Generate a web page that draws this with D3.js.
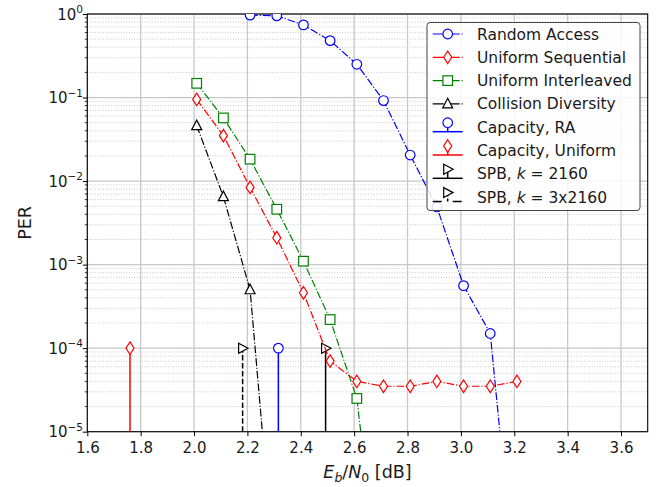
<!DOCTYPE html>
<html>
<head>
<meta charset="utf-8">
<script src="https://cdn.jsdelivr.net/npm/d3@7"></script>
<style>
  body { margin: 0; background: #fff; }
  text { font-family: "DejaVu Sans", sans-serif; fill: #1a1a1a; }
</style>
</head>
<body>
<div id="my_dataviz"></div>
<script>
// ---- data ----
var xTicks = [1.6, 1.8, 2.0, 2.2, 2.4, 2.6, 2.8, 3.0, 3.2, 3.4, 3.6];
var yDecades = [-5, -4, -3, -2, -1, 0];

var ebn0RA  = [2.21, 2.31, 2.41, 2.51, 2.61, 2.71, 2.81, 2.91, 3.01, 3.11, 3.21];
var perRA   = [0.97, 0.95, 0.74, 0.48, 0.25, 0.092, 0.0205, 0.0049, 5.6e-4, 1.5e-4, 8e-8];

var ebn0Seq = [2.01, 2.11, 2.21, 2.31, 2.41, 2.51, 2.61, 2.71, 2.81, 2.91, 3.01, 3.11, 3.21];
var perSeq  = [0.095, 0.035, 0.0084, 0.0021, 4.6e-4, 7e-5, 4e-5, 3.5e-5, 3.5e-5, 4e-5, 3.5e-5, 3.5e-5, 4e-5];

var ebn0Int = [2.01, 2.11, 2.21, 2.31, 2.41, 2.51, 2.61, 2.71];
var perInt  = [0.148, 0.057, 0.0183, 0.0046, 0.0011, 2.2e-4, 2.5e-5, 5e-8];

var ebn0CD  = [2.01, 2.11, 2.21, 2.31];
var perCD   = [0.046, 0.0065, 5e-4, 1e-7];

var stemX   = [2.316, 1.76, 2.493, 2.182];   // Capacity RA, Capacity Uniform, SPB k, SPB 3k
var stemPER = 1e-4;

var seriesNames = ["Random Access", "Uniform Sequential", "Uniform Interleaved", "Collision Diversity"];
var stemNames = ["Capacity, RA", "Capacity, Uniform", "SPB, k = 2160", "SPB, k = 3x2160"];

function plot(){

    document.getElementById("my_dataviz").innerHTML = '';

    var W = 662, H = 487;
    var left = 87.3, right = 647.7, top = 14, bottom = 431.7;

    var svg = d3.select("#my_dataviz")
        .append("svg")
            .attr("width", W)
            .attr("height", H);

    var xScale = d3.scaleLinear().domain([1.6, 3.7]).range([left, right]);
    var yScale = d3.scaleLog().domain([1e-5, 1]).range([bottom, top]);

    svg.append("clipPath").attr("id", "clip")
        .append("rect")
            .attr("x", left).attr("y", top)
            .attr("width", right - left).attr("height", bottom - top);

    // minor grid (dotted) and major grid
    var minors = [];
    yDecades.slice(0, -1).forEach(function(e) {
        for (var m = 2; m <= 9; m++) minors.push(m * Math.pow(10, e));
    });
    var grid = svg.append("g");
    grid.selectAll(".minor").data(minors).enter().append("line")
        .attr("x1", left).attr("x2", right)
        .attr("y1", function(d) { return yScale(d); })
        .attr("y2", function(d) { return yScale(d); })
        .attr("stroke", "#c4c4c4").attr("stroke-width", 0.9)
        .attr("stroke-dasharray", "1,1.6");
    grid.selectAll(".majy").data(yDecades).enter().append("line")
        .attr("x1", left).attr("x2", right)
        .attr("y1", function(d) { return yScale(Math.pow(10, d)); })
        .attr("y2", function(d) { return yScale(Math.pow(10, d)); })
        .attr("stroke", "#c8c8c8").attr("stroke-width", 1.3);
    grid.selectAll(".majx").data(xTicks).enter().append("line")
        .attr("y1", top).attr("y2", bottom)
        .attr("x1", function(d) { return xScale(d); })
        .attr("x2", function(d) { return xScale(d); })
        .attr("stroke", "#c8c8c8").attr("stroke-width", 1.3);

    // axes
    var xAxis = svg.append("g")
        .attr("transform", "translate(0," + bottom + ")")
        .call(d3.axisBottom(xScale).tickValues(xTicks).tickFormat(d3.format(".1f"))
            .tickSize(4.5).tickPadding(6).tickSizeOuter(0));
    xAxis.select(".domain").remove();
    xAxis.selectAll("text").attr("font-size", "15px").attr("fill", "#1a1a1a")
        .attr("font-family", "DejaVu Sans");

    var yAxis = svg.append("g")
        .attr("transform", "translate(" + left + ",0)")
        .call(d3.axisLeft(yScale).tickValues(yDecades.map(function(e) { return Math.pow(10, e); }))
            .tickFormat("").tickSize(4.5).tickSizeOuter(0));
    yAxis.select(".domain").remove();
    yAxis.selectAll(".minor").data(minors).enter().append("line")
        .attr("x1", -2.5).attr("x2", 0)
        .attr("y1", function(d) { return yScale(d); })
        .attr("y2", function(d) { return yScale(d); })
        .attr("stroke", "#000").attr("stroke-width", 0.8);

    var ylab = svg.append("g").selectAll("text").data(yDecades).enter().append("text")
        .attr("x", 83)
        .attr("y", function(d) { return yScale(Math.pow(10, d)); })
        .attr("dy", "0.37em")
        .attr("text-anchor", "end")
        .attr("font-size", "15px");
    ylab.append("tspan").text("10");
    ylab.append("tspan").attr("font-size", "10.5px").attr("dy", "-0.62em")
        .text(function(d) { return d === 0 ? "0" : "\u2212" + (-d); });

    // box
    svg.append("rect")
        .attr("x", left).attr("y", top)
        .attr("width", right - left).attr("height", bottom - top)
        .attr("fill", "none").attr("stroke", "#000").attr("stroke-width", 1.1);

    // axis labels
    svg.append("text")
        .attr("transform", "translate(30.5," + ((top + bottom) / 2) + ") rotate(-90)")
        .attr("text-anchor", "middle").attr("font-size", "17.5px").text("PER");

    var xl = svg.append("text")
        .attr("x", (left + right) / 2).attr("y", 478)
        .attr("text-anchor", "middle").attr("font-size", "17.5px");
    xl.append("tspan").attr("font-style", "italic").text("E");
    xl.append("tspan").attr("font-style", "italic").attr("font-size", "12.5px").attr("dy", "3.5").text("b");
    xl.append("tspan").attr("dy", "-3.5").text("/");
    xl.append("tspan").attr("font-style", "italic").text("N");
    xl.append("tspan").attr("font-size", "12.5px").attr("dy", "3.5").text("0");
    xl.append("tspan").attr("dy", "-3.5").text(" [dB]");

    // marker shapes
    function marker(sel, kind, color, s) {
        s = s || 1;
        var p;
        if (kind === "o") {
            p = sel.append("circle").attr("r", 4.8 * s);
        } else if (kind === "d") {
            p = sel.append("path").attr("d", "M0,-6.3L4,0L0,6.3L-4,0Z");
        } else if (kind === "s") {
            p = sel.append("rect").attr("x", -4.8).attr("y", -4.8).attr("width", 9.6).attr("height", 9.6);
        } else if (kind === "^") {
            p = sel.append("path").attr("d", "M0,-5.6L5,4L-5,4Z");
        } else {
            p = sel.append("path").attr("d", "M5.4,0L-4,-5L-4,5Z");
        }
        p.attr("fill", "#fff").attr("stroke", color).attr("stroke-width", 1.2);
    }

    var dashdot = "7.7,1.9,1.2,1.9";
    var series = [
        {x: ebn0RA,  y: perRA,  color: "#0000ff", m: "o"},
        {x: ebn0Seq, y: perSeq, color: "#ff0000", m: "d"},
        {x: ebn0Int, y: perInt, color: "#008000", m: "s"},
        {x: ebn0CD,  y: perCD,  color: "#000000", m: "^"}
    ];
    var stems = [
        {color: "#0000ff", m: "o", dash: null},
        {color: "#ff0000", m: "d", dash: null},
        {color: "#000000", m: ">", dash: null},
        {color: "#000000", m: ">", dash: "5.5,2.4"}
    ];

    var plotArea = svg.append("g").attr("clip-path", "url(#clip)");

    // stems
    stems.forEach(function(st, i) {
        var g = plotArea.append("g");
        g.append("line")
            .attr("x1", xScale(stemX[i])).attr("x2", xScale(stemX[i]))
            .attr("y1", yScale(1e-5)).attr("y2", yScale(stemPER))
            .attr("stroke", st.color).attr("stroke-width", 1.5)
            .attr("stroke-dasharray", st.dash);
        marker(g.append("g").attr("transform", "translate(" + xScale(stemX[i]) + "," + yScale(stemPER) + ")"),
            st.m, st.color);
    });

    series.forEach(function(s) {
        var pts = s.x.map(function(v, i) { return {x: v, y: s.y[i]}; });
        plotArea.append("path")
            .datum(pts)
            .attr("fill", "none")
            .attr("stroke", s.color)
            .attr("stroke-width", 1.2)
            .attr("stroke-dasharray", dashdot)
            .attr("d", d3.line()
                .x(function(d) { return xScale(d.x); })
                .y(function(d) { return yScale(d.y); }));
        plotArea.append("g").selectAll("g").data(pts).enter().append("g")
            .attr("transform", function(d) { return "translate(" + xScale(d.x) + "," + yScale(d.y) + ")"; })
            .each(function() { marker(d3.select(this), s.m, s.color); });
    });

    // legend
    var lg = svg.append("g");
    lg.append("rect")
        .attr("x", 427).attr("y", 22.5).attr("width", 213).attr("height", 188)
        .attr("rx", 3).attr("fill", "#fff").attr("fill-opacity", 0.85)
        .attr("stroke", "#444").attr("stroke-width", 1);
    var rowY = function(i) { return 34 + i * 23.3; };
    var hx1 = 432.7, hx2 = 462.7, hm = 447.7;
    series.forEach(function(s, i) {
        var y = rowY(i);
        lg.append("line").attr("x1", hx1).attr("x2", hx2).attr("y1", y).attr("y2", y)
            .attr("stroke", s.color).attr("stroke-width", 1.2).attr("stroke-dasharray", "11,1.9,1.2,1.9");
        marker(lg.append("g").attr("transform", "translate(" + hm + "," + y + ")"), s.m, s.color);
        lg.append("text").attr("x", 477).attr("y", y).attr("dy", "0.36em")
            .attr("font-size", "15.5px").text(seriesNames[i]);
    });
    stems.forEach(function(st, i) {
        var y = rowY(i + 4);
        lg.append("line").attr("x1", hx1).attr("x2", hx2).attr("y1", y + 4.5).attr("y2", y + 4.5)
            .attr("stroke", st.color).attr("stroke-width", 1.5)
            .attr("stroke-dasharray", st.dash ? "9,11" : null);
        lg.append("line").attr("x1", hm).attr("x2", hm).attr("y1", y + 4.5).attr("y2", y - 4.5)
            .attr("stroke", st.color).attr("stroke-width", 1.5)
            .attr("stroke-dasharray", st.dash ? "3,2" : null);
        marker(lg.append("g").attr("transform", "translate(" + hm + "," + (y - 4.5) + ")"), st.m, st.color);
        var t = lg.append("text").attr("x", 477).attr("y", y).attr("dy", "0.36em").attr("font-size", "15.5px");
        if (i < 2) {
            t.text(stemNames[i]);
        } else {
            t.append("tspan").text("SPB, ");
            t.append("tspan").attr("font-style", "italic").text("k");
            t.append("tspan").text(i === 2 ? " = 2160" : " = 3x2160");
        }
    });
}

window.addEventListener("load", plot);
</script>
</body>
</html>
